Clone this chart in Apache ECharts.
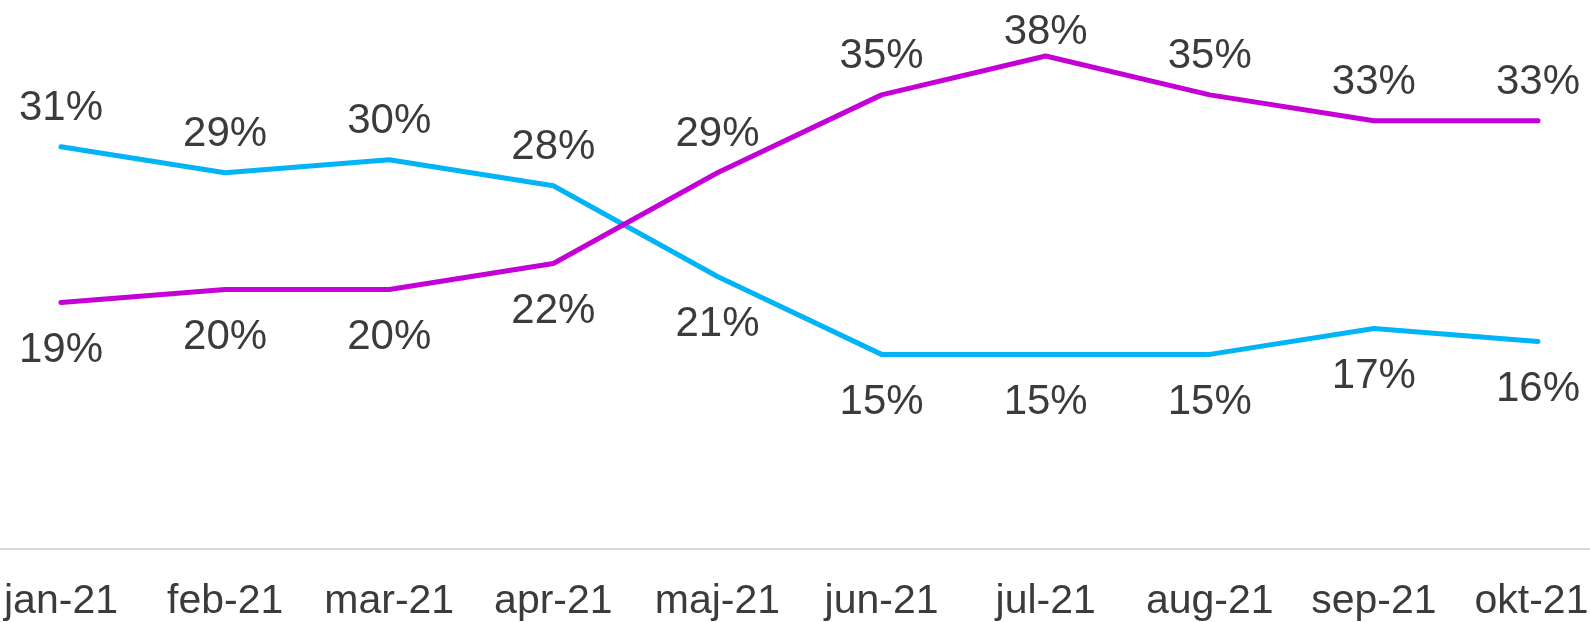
<!DOCTYPE html>
<html>
<head>
<meta charset="utf-8">
<style>
html,body{margin:0;padding:0;background:#fff;}
#chart{width:1590px;height:622px;}
</style>
<script src="https://cdn.jsdelivr.net/npm/echarts@6/dist/echarts.min.js"></script>
</head>
<body>
<div id="chart"></div>
<script>
var categories = ['jan-21','feb-21','mar-21','apr-21','maj-21','jun-21','jul-21','aug-21','sep-21','okt-21'];
var blueValues = [31,29,30,28,21,15,15,15,17,16];
var magentaValues = [19,20,20,22,29,35,38,35,33,33];
// label side per point: blue above for first four, below after; magenta opposite
var blueLabelSide = ['top','top','top','top','bottom','bottom','bottom','bottom','bottom','bottom'];
var magentaLabelSide = ['bottom','bottom','bottom','bottom','top','top','top','top','top','top'];

var FONT = '"Liberation Sans", Arial, sans-serif';
var TXT = '#3b3b3b';
var Y_MAX = 40;

function buildData(values, sides) {
  return values.map(function (v, i) {
    var above = sides[i] === 'top';
    var dist = above ? 17 : 27;
    // labels near the top edge are pulled toward the line so they stay inside the plot
    if (above && v > Y_MAX - 3) dist = 3;
    return {
      value: v,
      label: { position: sides[i], distance: dist }
    };
  });
}

// last category label is nudged inward so it fits the canvas edge
var categoryData = categories.map(function (c, i) {
  if (i === categories.length - 1) {
    return { value: c, textStyle: { padding: [0, 13, 0, 0] } };
  }
  return c;
});

var chart = echarts.init(document.getElementById('chart'));
chart.setOption({
  animation: false,
  backgroundColor: '#ffffff',
  grid: [
    { left: 61, right: 52, top: 30, bottom: 73, containLabel: false, outerBoundsMode: 'none' },
    { left: 0, right: 0, top: 30, bottom: 73, containLabel: false, outerBoundsMode: 'none' }
  ],
  xAxis: [
    {
      type: 'category', gridIndex: 0, data: categoryData, boundaryGap: false,
      axisLine: { show: false }, axisTick: { show: false }, splitLine: { show: false },
      axisLabel: { color: TXT, fontFamily: FONT, fontSize: 41, margin: 32, interval: 0, hideOverlap: false }
    },
    {
      type: 'value', gridIndex: 1, min: 0, max: 1,
      axisLine: { show: true, lineStyle: { color: '#d9d9d9', width: 2 } },
      axisTick: { show: false }, axisLabel: { show: false }, splitLine: { show: false }
    }
  ],
  yAxis: [
    { type: 'value', gridIndex: 0, min: 0, max: Y_MAX, show: false, splitLine: { show: false } },
    { type: 'value', gridIndex: 1, min: 0, max: 1, show: false, splitLine: { show: false } }
  ],
  series: [
    {
      type: 'line', xAxisIndex: 0, yAxisIndex: 0,
      data: buildData(blueValues, blueLabelSide),
      symbol: 'circle', symbolSize: 0, showSymbol: true,
      lineStyle: { color: '#00B4F5', width: 5, cap: 'round', join: 'round' },
      itemStyle: { color: '#00B4F5' },
      label: { show: true, color: TXT, fontFamily: FONT, fontSize: 42, formatter: '{c}%' },
      z: 3
    },
    {
      type: 'line', xAxisIndex: 0, yAxisIndex: 0,
      data: buildData(magentaValues, magentaLabelSide),
      symbol: 'circle', symbolSize: 0, showSymbol: true,
      lineStyle: { color: '#C400D6', width: 5, cap: 'round', join: 'round' },
      itemStyle: { color: '#C400D6' },
      label: { show: true, color: TXT, fontFamily: FONT, fontSize: 42, formatter: '{c}%' },
      z: 4
    }
  ]
});
</script>
</body>
</html>
